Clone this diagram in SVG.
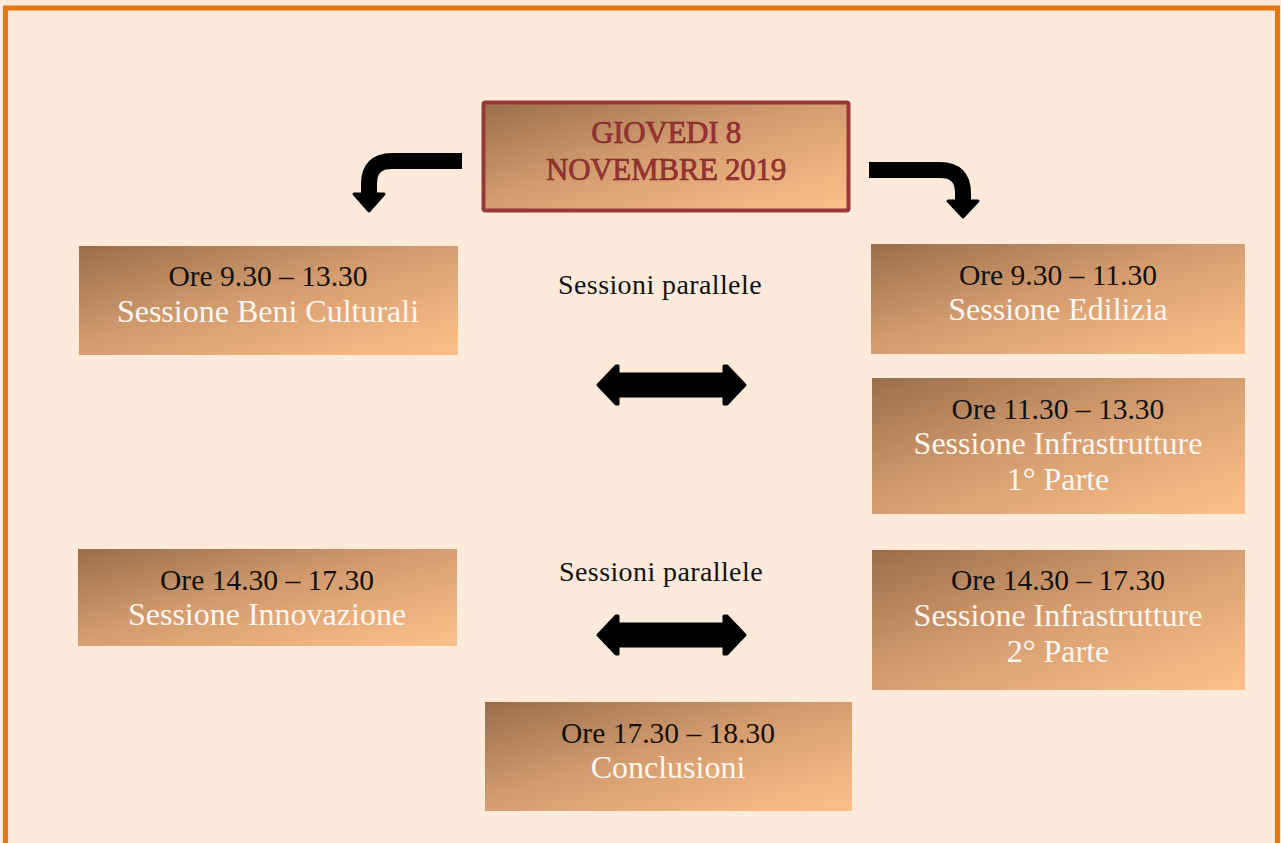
<svg xmlns="http://www.w3.org/2000/svg" width="1281" height="843" viewBox="0 0 1281 843">
<defs>
<linearGradient id="g" x1="0" y1="0" x2="1" y2="1">
<stop offset="0" stop-color="#9A6E4C"/>
<stop offset="0.45" stop-color="#D29B6E"/>
<stop offset="1" stop-color="#FFC18B"/>
</linearGradient>
<style>
.box{fill:url(#g)}
.t{font-family:"Liberation Serif","DejaVu Serif",serif;font-size:29.5px;text-anchor:middle}
.k{fill:#111}
.w{fill:#FFF7F0;font-size:32px}
.title{font-family:"Liberation Serif","DejaVu Serif",serif;font-size:31px;text-anchor:middle;fill:#9B3434;stroke:#7A2424;stroke-width:0.6;letter-spacing:-0.3px}
.lbl{font-family:"Liberation Serif","DejaVu Serif",serif;font-size:28px;text-anchor:middle;fill:#111;letter-spacing:0.4px}
.arr{fill:none;stroke:#000;stroke-width:16}
</style>
</defs>
<rect x="0" y="0" width="1281" height="843" fill="#FDEADB"/>
<rect x="5.5" y="8" width="1272" height="850" fill="#FDEADB" stroke="#E87511" stroke-width="5"/>

<g id="title">
<rect x="483.5" y="102.5" width="365" height="108" fill="url(#g)" stroke="#993838" stroke-width="4" rx="2"/>
<text class="title" x="666" y="143">GIOVEDI 8</text>
<text class="title" x="666" y="180">NOVEMBRE 2019</text>
</g>

<g id="connectors">
<path class="arr" d="M462,161 H392 Q369,161 369,184 V196" stroke-linejoin="round"/>
<polygon points="354,194 384,194 369,211" fill="#000" stroke="#000" stroke-width="3" stroke-linejoin="round"/>
<path class="arr" d="M869,170 H940 Q963,170 963,193 V203" stroke-linejoin="round"/>
<polygon points="948,201 978,201 963,217" fill="#000" stroke="#000" stroke-width="3" stroke-linejoin="round"/>
<polygon points="598,385 616,366 618,366 618,374 724,374 724,366 727,366 745,385 727,404 724,404 724,396 618,396 618,404 616,404" fill="#000" stroke="#000" stroke-width="3" stroke-linejoin="round"/>
<polygon points="598,635 616,616 618,616 618,624 724,624 724,616 727,616 745,635 727,654 724,654 724,646 618,646 618,654 616,654" fill="#000" stroke="#000" stroke-width="3" stroke-linejoin="round"/>
</g>

<g id="lbl1"><text class="lbl" x="660" y="294">Sessioni parallele</text></g>
<g id="lbl2"><text class="lbl" x="661" y="581">Sessioni parallele</text></g>

<g id="beni">
<rect class="box" x="79" y="246" width="379" height="109"/>
<text class="t k" x="268" y="286">Ore 9.30 – 13.30</text>
<text class="t w" x="268" y="322">Sessione Beni Culturali</text>
</g>

<g id="edilizia">
<rect class="box" x="871" y="244" width="374" height="110"/>
<text class="t k" x="1058" y="285">Ore 9.30 – 11.30</text>
<text class="t w" x="1058" y="320">Sessione Edilizia</text>
</g>

<g id="infra1">
<rect class="box" x="872" y="378" width="373" height="136"/>
<text class="t k" x="1058" y="419">Ore 11.30 – 13.30</text>
<text class="t w" x="1058" y="454">Sessione Infrastrutture</text>
<text class="t w" x="1058" y="490">1° Parte</text>
</g>

<g id="innovazione">
<rect class="box" x="78" y="549" width="379" height="97"/>
<text class="t k" x="267" y="590">Ore 14.30 – 17.30</text>
<text class="t w" x="267" y="625">Sessione Innovazione</text>
</g>

<g id="infra2">
<rect class="box" x="872" y="550" width="373" height="140"/>
<text class="t k" x="1058" y="590">Ore 14.30 – 17.30</text>
<text class="t w" x="1058" y="626">Sessione Infrastrutture</text>
<text class="t w" x="1058" y="662">2° Parte</text>
</g>

<g id="conclusioni">
<rect class="box" x="485" y="702" width="367" height="109"/>
<text class="t k" x="668" y="743">Ore 17.30 – 18.30</text>
<text class="t w" x="668" y="778">Conclusioni</text>
</g>
</svg>
